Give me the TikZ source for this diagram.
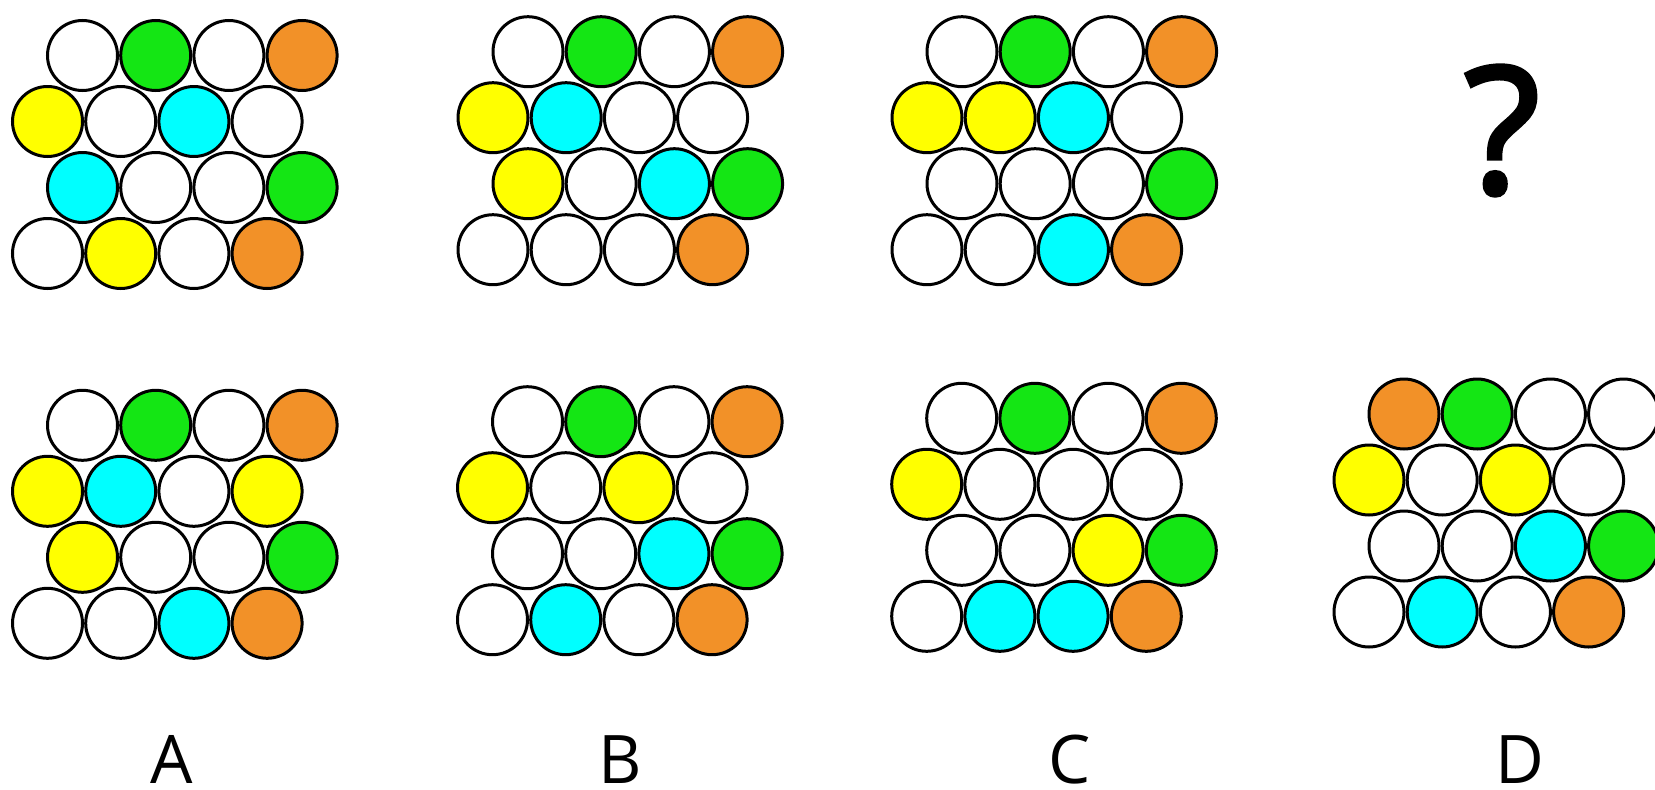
\documentclass[tikz,border=0pt]{standalone}
\usepackage{fontspec}
\setmainfont{Open Sans}
\newfontfamily\qfont{Open Sans}[FakeBold=2.5]
\definecolor{cW}{RGB}{255,255,255}
\definecolor{cG}{RGB}{20,230,20}
\definecolor{cO}{RGB}{242,145,40}
\definecolor{cY}{RGB}{255,255,0}
\definecolor{cC}{RGB}{0,255,255}
\newcommand\drawpanel[4]{%
  \foreach \colname [count=\i from 0] in {#4} {
    \pgfmathtruncatemacro\rr{int(\i/4)}
    \pgfmathtruncatemacro\cc{mod(\i,4)}
    \pgfmathsetmacro\xx{#2+73.2*\cc-35*mod(\rr,2)}
    \pgfmathsetmacro\yy{#3+66*\rr}
    \node[ball, fill=c\colname] (#1-\rr-\cc) at (\xx pt,-\yy pt) {};
  }}
\begin{document}
\begin{tikzpicture}[
  ball/.style={circle, draw=black, line width=3pt, minimum size=70pt, inner sep=0pt},
  lbl/.style={anchor=base, font=\fontsize{67}{67}\selectfont, inner sep=0pt, text height=48pt, text depth=0pt}
]
\useasboundingbox[fill=white] (0pt,0pt) rectangle (1655pt,-790pt);
% top row
\drawpanel{At}{82.5}{55.5}{W,G,W,O, Y,W,C,W, C,W,W,G, W,Y,W,O}
\drawpanel{Bt}{528}{51.7}{W,G,W,O, Y,C,W,W, Y,W,C,G, W,W,W,O}
\drawpanel{Ct}{962}{51.7}{W,G,W,O, Y,Y,C,W, W,W,W,G, W,W,C,O}
\node[anchor=base, inner sep=0pt, text height=126pt, text depth=0pt, font=\qfont\fontsize{176}{176}\selectfont] (q) at (1502pt,-193pt) {?};
% bottom row
\drawpanel{Ab}{82.5}{425.3}{W,G,W,O, Y,C,W,Y, Y,W,W,G, W,W,C,O}
\drawpanel{Bb}{527.5}{421.7}{W,G,W,O, Y,W,Y,W, W,W,C,G, W,C,W,O}
\drawpanel{Cb}{961.7}{418.3}{W,G,W,O, Y,W,W,W, W,W,Y,G, W,C,C,O}
\drawpanel{Db}{1404}{414}{O,G,W,W, Y,W,Y,W, W,W,C,G, W,C,W,O}
% labels
\node[lbl] (la) at (172pt,-783pt) {A};
\node[lbl] (lb) at (620pt,-783pt) {B};
\node[lbl] (lc) at (1070pt,-783pt) {C};
\node[lbl] (ld) at (1520pt,-783pt) {D};
\end{tikzpicture}
\end{document}
